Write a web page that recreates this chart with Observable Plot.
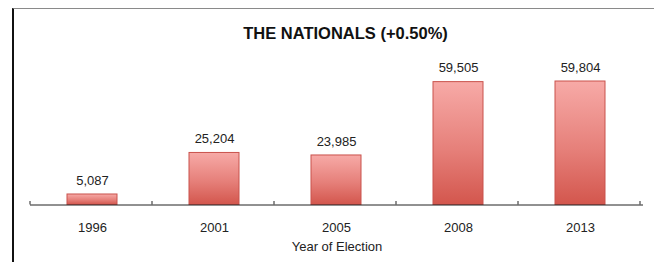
<!DOCTYPE html>
<html>
<head>
<meta charset="utf-8">
<script src="https://cdn.jsdelivr.net/npm/d3@7"></script>
<script src="https://cdn.jsdelivr.net/npm/@observablehq/plot@0.6"></script>
<style>
  html, body { margin: 0; padding: 0; background: #fff; }
  #wrap { position: relative; width: 654px; height: 262px; overflow: hidden; }
  #frame { position: absolute; left: 12px; top: 8px; width: 640px; height: 260px;
           border-left: 2px solid #111; border-top: 1px solid #8a8a8a; border-right: 1px solid #9a9a9a; pointer-events: none; }
</style>
</head>
<body>
<div id="wrap"><div id="frame"></div></div>
<script>
const title = "THE NATIONALS (+0.50%)";
const xLabel = "Year of Election";
const years = ["1996", "2001", "2005", "2008", "2013"];
const votes = [5087, 25204, 23985, 59505, 59804];

const data = years.map((y, i) => ({year: y, votes: votes[i]}));
const fmt = d3.format(",");

const plot = Plot.plot({
  width: 654,
  height: 262,
  marginLeft: 30,
  marginRight: 11,
  marginTop: 0,
  marginBottom: 57.5,
  style: {fontFamily: "'Liberation Sans', Arial, sans-serif", fontSize: "13px", color: "#222", background: "transparent"},
  x: {domain: years, paddingInner: 0.59, paddingOuter: 0.295, axis: null},
  y: {domain: [0, 60000], range: [204.5, 80.6], axis: null},
  marks: [
    Plot.barY(data, {x: "year", y: "votes", fill: "url(#barGrad)", stroke: "#c9524c", strokeWidth: 1,
      style: "filter: drop-shadow(1.5px 0.5px 1px rgba(0,0,0,0.22))"}),
    Plot.ruleY([0], {stroke: "#222", strokeWidth: 1}),
    Plot.text(data, {x: "year", y: "votes", text: d => fmt(d.votes), dy: -14, lineAnchor: "middle", fontSize: 13, fill: "#222"}),
    Plot.axisX({anchor: "bottom", tickSize: 0, tickPadding: 17.5, fontSize: 13, label: null, fill: "#222"}),
    Plot.text([xLabel], {frameAnchor: "bottom", dy: 41.5, lineAnchor: "middle", fontSize: 13, fill: "#222"}),
    Plot.text([title], {frameAnchor: "top", dy: 33, dx: 8.5, lineAnchor: "middle", fontSize: 16.5, fontWeight: "bold", fill: "#111"})
  ]
});

const svg = d3.select(plot);
const defs = svg.insert("defs", ":first-child");
const grad = defs.append("linearGradient").attr("id", "barGrad").attr("x1", 0).attr("y1", 0).attr("x2", 0).attr("y2", 1);
grad.append("stop").attr("offset", "0%").attr("stop-color", "#f7aaa7");
grad.append("stop").attr("offset", "55%").attr("stop-color", "#e6807a");
grad.append("stop").attr("offset", "100%").attr("stop-color", "#d3564d");

// Category boundary ticks from the band scale
const xs = plot.scale("x");
const ys = plot.scale("y");
const base = ys.apply(0);
const r0 = xs.range[0];
const ticks = d3.range(years.length + 1).map(i => r0 + i * xs.step);
svg.append("g").selectAll("line").data(ticks).join("line")
  .attr("x1", d => d).attr("x2", d => d)
  .attr("y1", base).attr("y2", base - 3.5)
  .attr("stroke", "#222").attr("stroke-width", 1);

plot.style.position = "absolute";
plot.style.left = "0px";
plot.style.top = "0px";
document.getElementById("wrap").insertBefore(plot, document.getElementById("frame"));
</script>
</body>
</html>
